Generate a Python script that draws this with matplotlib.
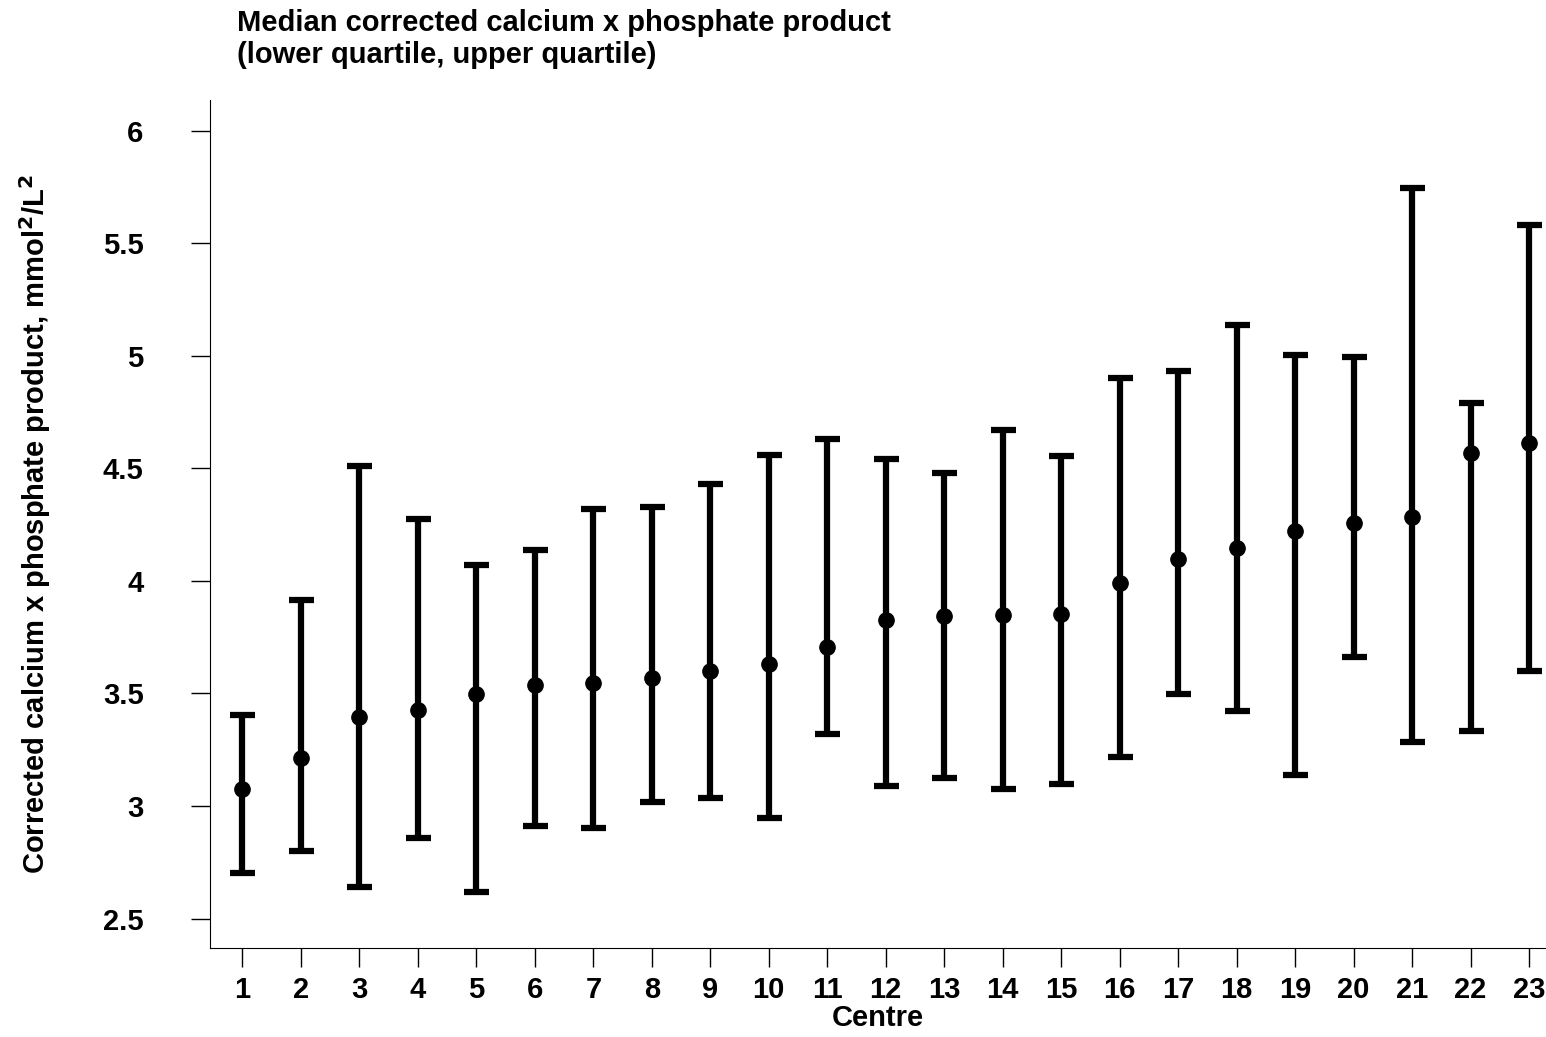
import matplotlib
matplotlib.use("Agg")
import matplotlib.pyplot as plt
import numpy as np

plt.rcParams['font.family'] = ['Liberation Sans', 'DejaVu Sans']
plt.rcParams['font.weight'] = 'bold'

centres = np.arange(1, 24)
median = [3.077, 3.215, 3.397, 3.428, 3.499, 3.539, 3.548, 3.570, 3.601, 3.632, 3.708, 3.828,
          3.845, 3.850, 3.854, 3.992, 4.099, 4.147, 4.223, 4.259, 4.285, 4.570, 4.614]
upper_q = [3.406, 3.916, 4.512, 4.276, 4.072, 4.139, 4.321, 4.330, 4.432, 4.561, 4.632, 4.543,
           4.481, 4.672, 4.556, 4.903, 4.934, 5.138, 5.005, 4.996, 5.747, 4.792, 5.580]
lower_q = [2.704, 2.801, 2.642, 2.859, 2.619, 2.912, 2.904, 3.019, 3.037, 2.948, 3.321, 3.090,
           3.126, 3.077, 3.099, 3.219, 3.499, 3.423, 3.139, 3.663, 3.286, 3.335, 3.601]

median = np.array(median)
yerr = [median - np.array(lower_q), np.array(upper_q) - median]

fig = plt.figure(figsize=(15.46, 10.37), dpi=100)
ax = fig.add_axes([0.136, 0.086, 0.864, 0.818])
ax.errorbar(centres, median, yerr=yerr, fmt='o', color='black', ms=11,
            elinewidth=4.5, capsize=9, capthick=4.5)

ax.set_xlim(0.45, 23.29)
ax.set_ylim(2.37, 6.138)
ax.set_xticks(centres)
ax.set_yticks([2.5, 3, 3.5, 4, 4.5, 5, 5.5, 6])
ax.set_yticklabels(['2.5', '3', '3.5', '4', '4.5', '5', '5.5', '6'])
ax.tick_params(labelsize=21, width=1, length=14)
ax.tick_params(axis='y', pad=34)
ax.tick_params(axis='x', pad=6)
ax.spines['top'].set_visible(False)
ax.spines['right'].set_visible(False)
ax.set_xlabel('Centre', fontsize=21, fontweight='bold', labelpad=0)
ax.set_ylabel('Corrected calcium x phosphate product, mmol$^\\mathbf{2}$/L$^\\mathbf{2}$',
              fontsize=21, fontweight='bold')
ax.yaxis.set_label_coords(-0.118, 0.5)
ax.set_title('Median corrected calcium x phosphate product\n(lower quartile, upper quartile)',
             fontsize=21, fontweight='bold', loc='left', x=0.02, pad=26)

fig.savefig('out.png', dpi=100)
